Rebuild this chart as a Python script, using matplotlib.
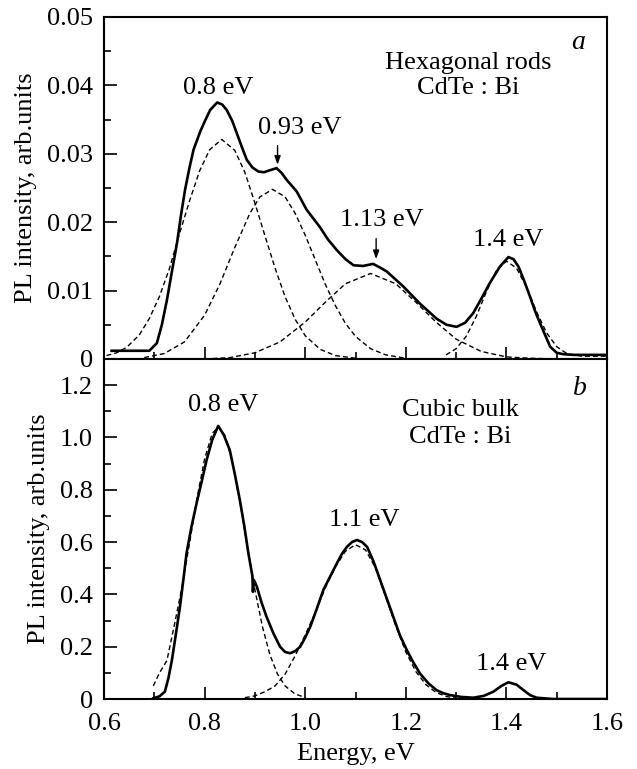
import numpy as np
import matplotlib
matplotlib.use("Agg")
import matplotlib.pyplot as plt
from matplotlib.ticker import MultipleLocator

plt.rcParams["font.family"] = ["Liberation Serif", "DejaVu Serif"]

# -----------------------------------------------------------------------------
# (a) Hexagonal rods CdTe:Bi
# -----------------------------------------------------------------------------
a_meas_E = [0.615, 0.66, 0.69, 0.705, 0.715, 0.725, 0.735, 0.745, 0.753, 0.761,
            0.770, 0.778, 0.791, 0.800, 0.811, 0.825, 0.835, 0.844, 0.855, 0.864,
            0.875, 0.884, 0.895, 0.907, 0.918, 0.930, 0.943, 0.953, 0.963, 0.983,
            1.003, 1.029, 1.045, 1.063, 1.080, 1.096, 1.115, 1.135, 1.148, 1.162,
            1.195, 1.228, 1.261, 1.281, 1.301, 1.318, 1.334, 1.350, 1.367, 1.387,
            1.404, 1.414, 1.424, 1.435, 1.447, 1.457, 1.467, 1.487, 1.500, 1.513,
            1.533, 1.600]
a_meas_I = [0.0012, 0.0012, 0.0012, 0.0023, 0.0050, 0.0086, 0.0128, 0.0169, 0.0210, 0.0247,
            0.0280, 0.0306, 0.0332, 0.0347, 0.0364, 0.0375, 0.0372, 0.0364, 0.0348, 0.0330,
            0.0308, 0.0291, 0.0280, 0.0274, 0.0273, 0.0276, 0.0279, 0.0272, 0.0262, 0.0245,
            0.0218, 0.0193, 0.0175, 0.0159, 0.0146, 0.0137, 0.0136, 0.0139, 0.0134, 0.0128,
            0.0106, 0.0081, 0.0059, 0.0050, 0.0047, 0.0053, 0.0067, 0.0088, 0.0111, 0.0135,
            0.0149, 0.0146, 0.0135, 0.0115, 0.0091, 0.0070, 0.0052, 0.0018, 0.0009, 0.0007,
            0.0006, 0.0006]

a_p1_E = [0.605, 0.625, 0.645, 0.67, 0.69, 0.71, 0.73, 0.75, 0.77, 0.79, 0.81, 0.834,
          0.86, 0.88, 0.90, 0.92, 0.94, 0.96, 0.98, 1.00, 1.03, 1.06, 1.10]
a_p1_I = [0.0005, 0.0009, 0.0017, 0.0035, 0.0059, 0.0091, 0.0132, 0.0183, 0.0231, 0.0275,
          0.0306, 0.0321, 0.0305, 0.0273, 0.0228, 0.0180, 0.0133, 0.0091, 0.0058, 0.0034,
          0.0014, 0.0005, 0.0001]

a_p2_E = [0.68, 0.72, 0.76, 0.80, 0.83, 0.86, 0.89, 0.91, 0.935, 0.96, 0.98, 1.00,
          1.02, 1.04, 1.06, 1.08, 1.10, 1.13, 1.16, 1.20]
a_p2_I = [0.0002, 0.0008, 0.0025, 0.0064, 0.0109, 0.0163, 0.0213, 0.0237, 0.0248, 0.0237,
          0.0213, 0.0181, 0.0145, 0.0109, 0.0078, 0.0052, 0.0033, 0.0015, 0.0006, 0.0001]

a_p3_E = [0.80, 0.85, 0.90, 0.95, 1.00, 1.04, 1.08, 1.13, 1.18, 1.22, 1.26, 1.30,
          1.35, 1.40, 1.45, 1.50]
a_p3_I = [0.0000, 0.0002, 0.0009, 0.0025, 0.0054, 0.0083, 0.0110, 0.0125, 0.0110, 0.0083,
          0.0054, 0.0029, 0.0011, 0.0003, 0.0001, 0.0000]

a_p4_E = [1.28, 1.30, 1.32, 1.34, 1.36, 1.38, 1.40, 1.42, 1.44, 1.46, 1.48, 1.50,
          1.52, 1.55, 1.60]
a_p4_I = [0.0006, 0.0015, 0.0033, 0.0062, 0.0098, 0.0129, 0.0143, 0.0133, 0.0105, 0.0069,
          0.0038, 0.0018, 0.0008, 0.0004, 0.0004]

a_yticks = [0, 0.01, 0.02, 0.03, 0.04, 0.05]
a_ylabels = ["0", "0.01", "0.02", "0.03", "0.04", "0.05"]

# -----------------------------------------------------------------------------
# (b) Cubic bulk CdTe:Bi
# -----------------------------------------------------------------------------
b_meas_E = [0.698, 0.710, 0.721, 0.728, 0.735, 0.743, 0.751, 0.758, 0.764, 0.774,
            0.784, 0.794, 0.804, 0.815, 0.827, 0.838, 0.850, 0.860, 0.870, 0.879,
            0.887, 0.895, 0.896, 0.898, 0.904, 0.913, 0.923, 0.937, 0.950, 0.960,
            0.970, 0.980, 0.990, 1.000, 1.010, 1.023, 1.036, 1.050, 1.063, 1.073,
            1.083, 1.093, 1.103, 1.113, 1.123, 1.136, 1.149, 1.162, 1.175, 1.188,
            1.202, 1.215, 1.228, 1.245, 1.261, 1.275, 1.288, 1.310, 1.334, 1.355,
            1.374, 1.390, 1.404, 1.420, 1.434, 1.447, 1.460, 1.493, 1.600]
b_meas_I = [0.003, 0.010, 0.028, 0.080, 0.149, 0.250, 0.353, 0.460, 0.557, 0.660,
            0.748, 0.830, 0.914, 0.990, 1.044, 1.010, 0.952, 0.860, 0.761, 0.660,
            0.557, 0.470, 0.410, 0.455, 0.429, 0.370, 0.315, 0.250, 0.200, 0.180,
            0.175, 0.183, 0.200, 0.235, 0.276, 0.345, 0.417, 0.470, 0.519, 0.555,
            0.582, 0.600, 0.608, 0.600, 0.582, 0.525, 0.455, 0.385, 0.315, 0.245,
            0.187, 0.140, 0.098, 0.060, 0.034, 0.022, 0.015, 0.008, 0.005, 0.012,
            0.028, 0.050, 0.064, 0.055, 0.034, 0.015, 0.005, 0.000, 0.000]

b_p1_E = [0.698, 0.71, 0.725, 0.74, 0.755, 0.77, 0.785, 0.80, 0.815, 0.827, 0.84,
          0.855, 0.87, 0.885, 0.90, 0.915, 0.93, 0.945, 0.96, 0.98, 1.00]
b_p1_I = [0.050, 0.099, 0.147, 0.284, 0.428, 0.596, 0.769, 0.918, 1.015, 1.040, 1.010,
          0.910, 0.757, 0.584, 0.417, 0.276, 0.168, 0.095, 0.050, 0.019, 0.006]

b_p2_E = [0.88, 0.90, 0.92, 0.94, 0.96, 0.98, 1.00, 1.02, 1.04, 1.06, 1.08, 1.10,
          1.12, 1.14, 1.16, 1.18, 1.20, 1.22, 1.24, 1.26, 1.28, 1.30]
b_p2_I = [0.005, 0.012, 0.028, 0.050, 0.095, 0.165, 0.245, 0.330, 0.425, 0.505, 0.565,
          0.590, 0.570, 0.500, 0.390, 0.280, 0.180, 0.105, 0.055, 0.025, 0.010, 0.003]

b_yticks = [0, 0.2, 0.4, 0.6, 0.8, 1.0, 1.2]
b_ylabels = ["0", "0.2", "0.4", "0.6", "0.8", "1.0", "1.2"]

x_ticks = [0.6, 0.8, 1.0, 1.2, 1.4, 1.6]
x_labels = ["0.6", "0.8", "1.0", "1.2", "1.4", "1.6"]

fig = plt.figure(figsize=(6.37, 7.69), dpi=100)
ax_a = fig.add_axes([0.1633, 0.5332, 0.7896, 0.4447])
ax_b = fig.add_axes([0.1633, 0.0910, 0.7896, 0.4422])

solid_kw = dict(color="black", lw=1.9, solid_joinstyle="round")
dash_kw = dict(color="black", lw=1.0, ls=(0, (3.5, 2.2)))

ax_a.plot(a_meas_E, a_meas_I, **solid_kw)
for e, i in [(a_p1_E, a_p1_I), (a_p2_E, a_p2_I), (a_p3_E, a_p3_I), (a_p4_E, a_p4_I)]:
    ax_a.plot(e, i, **dash_kw)

ax_b.plot(b_meas_E, b_meas_I, **solid_kw)
for e, i in [(b_p1_E, b_p1_I), (b_p2_E, b_p2_I)]:
    ax_b.plot(e, i, **dash_kw)

fs = 19
for ax in (ax_a, ax_b):
    ax.set_xticks(x_ticks, x_labels)
    ax.xaxis.set_minor_locator(MultipleLocator(0.1))
    ax.set_xlim(0.6, 1.6)
    ax.tick_params(which="both", direction="in", top=False, right=False,
                   width=1.2, labelsize=fs)
    ax.tick_params(which="major", length=9)
    ax.tick_params(which="minor", length=5)
    ax.tick_params(axis="y", pad=8)
    for s in ax.spines.values():
        s.set_linewidth(1.5)
    ax.set_ylabel("PL intensity, arb.units", fontsize=fs, labelpad=7)

ax_a.set_yticks(a_yticks, a_ylabels)
ax_a.yaxis.set_minor_locator(MultipleLocator(0.005))
ax_a.set_ylim(0, 0.05)
ax_a.tick_params(axis="x", labelbottom=False)

ax_b.set_yticks(b_yticks, b_ylabels)
ax_b.yaxis.set_minor_locator(MultipleLocator(0.1))
ax_b.set_ylim(0, 1.3)
ax_b.tick_params(axis="x", pad=10)
ax_b.set_xlabel("Energy, eV", fontsize=fs, labelpad=6)

# panel (a) annotations
ax_a.text(0.827, 0.0396, "0.8 eV", fontsize=fs, ha="center", va="center")
ax_a.text(0.990, 0.0338, "0.93 eV", fontsize=fs, ha="center", va="center")
ax_a.text(1.153, 0.0203, "1.13 eV", fontsize=fs, ha="center", va="center")
ax_a.text(1.403, 0.0174, "1.4 eV", fontsize=fs, ha="center", va="center")
ax_a.text(1.324, 0.0433, "Hexagonal rods", fontsize=fs, ha="center", va="center")
ax_a.text(1.324, 0.0396, "CdTe : Bi", fontsize=fs, ha="center", va="center")
ax_a.text(1.542, 0.0462, "a", fontsize=fs + 1, style="italic", ha="center", va="center")
arrow_kw = dict(arrowstyle="-|>,head_length=0.5,head_width=0.18", color="black", lw=1.0)
ax_a.annotate("", xy=(0.945, 0.0280), xytext=(0.945, 0.0316), arrowprops=arrow_kw)
ax_a.annotate("", xy=(1.141, 0.0142), xytext=(1.141, 0.0180), arrowprops=arrow_kw)

# panel (b) annotations
ax_b.text(0.837, 1.124, "0.8 eV", fontsize=fs, ha="center", va="center")
ax_b.text(1.117, 0.684, "1.1 eV", fontsize=fs, ha="center", va="center")
ax_b.text(1.410, 0.132, "1.4 eV", fontsize=fs, ha="center", va="center")
ax_b.text(1.308, 1.105, "Cubic bulk", fontsize=fs, ha="center", va="center")
ax_b.text(1.308, 1.002, "CdTe : Bi", fontsize=fs, ha="center", va="center")
ax_b.text(1.546, 1.189, "b", fontsize=fs + 1, style="italic", ha="center", va="center")

fig.savefig("out.png", dpi=100)
